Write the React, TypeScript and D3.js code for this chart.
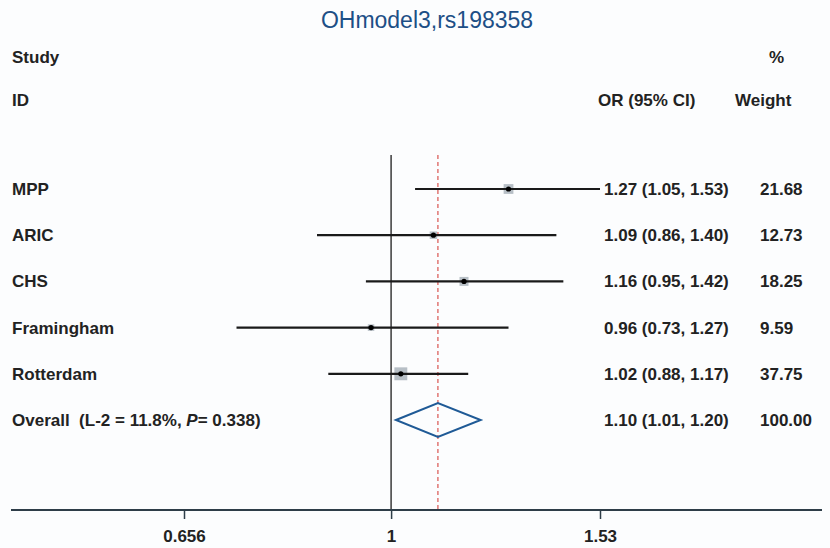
import { useRef, useEffect } from 'react'
import * as d3 from 'd3'

const studies = ['MPP', 'ARIC', 'CHS', 'Framingham', 'Rotterdam']
const orValues = [1.27, 1.09, 1.16, 0.96, 1.02]
const lowerCI = [1.05, 0.86, 0.95, 0.73, 0.88]
const upperCI = [1.53, 1.4, 1.42, 1.27, 1.17]
const weights = [21.68, 12.73, 18.25, 9.59, 37.75]
const overall = { or: 1.1, lo: 1.01, hi: 1.2, weight: 100 }
const tickValues = [0.656, 1, 1.53]
const tickLabels = ['0.656', '1', '1.53']

const W = 830
const H = 548
const font = '"Liberation Sans", Arial, sans-serif'
const fs = 17
const ink = '#222'

const App = () => {
  const chartRef = useRef<SVGSVGElement>(null)

  useEffect(() => {
    drawChart()
  }, [])

  const label = (g: any, x: number, y: number, t: string) =>
    g.append('text')
      .attr('x', x).attr('y', y)
      .attr('font-family', font).attr('font-size', fs)
      .attr('font-weight', 'bold').attr('fill', ink)
      .text(t)

  const drawChart = () => {
    const svg = d3.select(chartRef.current)
    svg.selectAll('*').remove()

    const x = d3.scaleLog()
      .domain([0.656, 1.53])
      .range([184, 600])

    const rowY = d3.scalePoint<number>()
      .domain(d3.range(studies.length + 1))
      .range([189, 420])

    const axisY = 510
    const fmt = d3.format('.2f')

    svg.append('rect').attr('width', W).attr('height', H).attr('fill', '#fcfdfe')

    // title
    svg.append('text')
      .attr('x', 427).attr('y', 28)
      .attr('text-anchor', 'middle')
      .attr('font-family', font).attr('font-size', 23)
      .attr('fill', '#1d4f86')
      .text('OHmodel3,rs198358')

    label(svg, 12, 63, 'Study')
    label(svg, 12, 106, 'ID')
    label(svg, 769, 63, '%')
    label(svg, 598, 106, 'OR (95% CI)')
    label(svg, 735, 106, 'Weight')

    // reference line at 1
    svg.append('line')
      .attr('x1', x(1)).attr('x2', x(1))
      .attr('y1', 155).attr('y2', axisY)
      .attr('stroke', '#3a3a3a').attr('stroke-width', 1.5)

    // overall dashed line
    svg.append('line')
      .attr('x1', x(overall.or)).attr('x2', x(overall.or))
      .attr('y1', 155).attr('y2', axisY)
      .attr('stroke', '#d9534f').attr('stroke-width', 1.2)
      .attr('stroke-dasharray', '4,3')

    const rows = svg.append('g')
    studies.forEach((s, i) => {
      const y = rowY(i) as number
      const side = 2.1 * Math.sqrt(weights[i])
      rows.append('rect')
        .attr('x', x(orValues[i]) - side / 2).attr('y', y - side / 2)
        .attr('width', side).attr('height', side)
        .attr('fill', '#b7bfc6')
      rows.append('line')
        .attr('x1', x(lowerCI[i])).attr('x2', x(upperCI[i]))
        .attr('y1', y).attr('y2', y)
        .attr('stroke', '#1a1a1a').attr('stroke-width', 2.2)
      rows.append('circle')
        .attr('cx', x(orValues[i])).attr('cy', y).attr('r', 2.6)
        .attr('fill', '#000')
      label(rows, 12, y + 6, s)
      label(rows, 604, y + 6, `${fmt(orValues[i])} (${fmt(lowerCI[i])}, ${fmt(upperCI[i])})`)
      label(rows, 760, y + 6, fmt(weights[i]))
    })

    // overall diamond
    const oy = rowY(studies.length) as number
    const dh = 17
    svg.append('path')
      .attr('d', `M${x(overall.lo)},${oy} L${x(overall.or)},${oy - dh} L${x(overall.hi)},${oy} L${x(overall.or)},${oy + dh} Z`)
      .attr('fill', 'none').attr('stroke', '#1f5a96').attr('stroke-width', 2)

    const ot = label(svg, 12, oy + 6, '').attr('xml:space', 'preserve')
    ot.append('tspan').text('Overall  (L-2 = 11.8%, ')
    ot.append('tspan').attr('font-style', 'italic').text('P')
    ot.append('tspan').text('= 0.338)')

    label(svg, 604, oy + 6, `${fmt(overall.or)} (${fmt(overall.lo)}, ${fmt(overall.hi)})`)
    label(svg, 760, oy + 6, fmt(overall.weight))

    // x axis
    const axis = svg.append('g')
      .attr('transform', `translate(0,${axisY})`)
      .call(d3.axisBottom(x).tickValues(tickValues)
        .tickFormat((_, i) => tickLabels[i]).tickSize(9).tickSizeOuter(0).tickPadding(11))
    axis.select('.domain').remove()
    axis.append('line')
      .attr('x1', 11).attr('x2', W - 8)
      .attr('stroke', '#2e3d48').attr('stroke-width', 2)
    axis.selectAll('.tick line').attr('stroke', '#2e3d48').attr('stroke-width', 1.5)
    axis.selectAll('.tick text')
      .attr('font-family', font).attr('font-size', fs)
      .attr('font-weight', 'bold').attr('fill', ink)
  }

  return (
    <svg ref={chartRef} width={W} height={H}
      style={{ position: 'absolute', left: 0, top: 0 }}></svg>
  )
}

export default App
